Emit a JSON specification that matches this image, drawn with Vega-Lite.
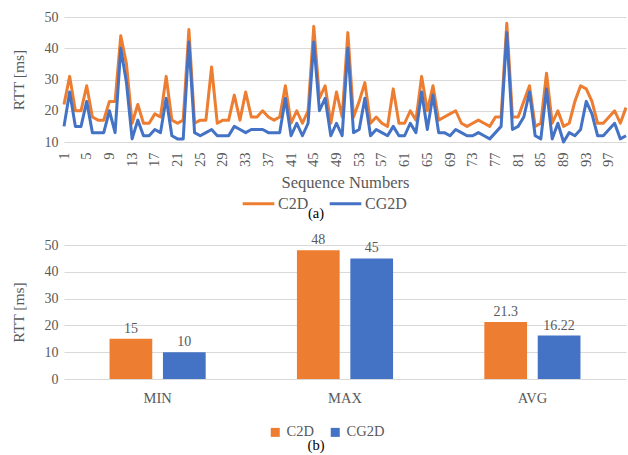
{
  "$schema": "https://vega.github.io/schema/vega-lite/v6.json",
  "padding": {"left": 11, "top": 10, "right": 0, "bottom": 0},
  "background": "white",
  "config": {
    "view": {"stroke": null},
    "font": "Liberation Serif",
    "axis": {"labelColor": "#595959", "titleColor": "#595959", "labelFont": "Liberation Serif", "titleFont": "Liberation Serif", "titleFontWeight": "normal", "gridColor": "#D9D9D9", "gridWidth": 1, "domain": false, "ticks": false},
    "legend": {"labelColor": "#595959", "labelFont": "Liberation Serif", "padding": 0},
    "title": {"font": "Liberation Serif", "fontWeight": "normal", "color": "#000000"}
  },
  "datasets": {
    "seq": [
      {"seq":1,"series":"C2D","rtt":22},{"seq":2,"series":"C2D","rtt":31},{"seq":3,"series":"C2D","rtt":20},{"seq":4,"series":"C2D","rtt":20},{"seq":5,"series":"C2D","rtt":28},{"seq":6,"series":"C2D","rtt":18},{"seq":7,"series":"C2D","rtt":17},{"seq":8,"series":"C2D","rtt":17},{"seq":9,"series":"C2D","rtt":23},{"seq":10,"series":"C2D","rtt":23},
      {"seq":11,"series":"C2D","rtt":44},{"seq":12,"series":"C2D","rtt":35},{"seq":13,"series":"C2D","rtt":16},{"seq":14,"series":"C2D","rtt":22},{"seq":15,"series":"C2D","rtt":16},{"seq":16,"series":"C2D","rtt":16},{"seq":17,"series":"C2D","rtt":19},{"seq":18,"series":"C2D","rtt":18},{"seq":19,"series":"C2D","rtt":31},{"seq":20,"series":"C2D","rtt":17},
      {"seq":21,"series":"C2D","rtt":16},{"seq":22,"series":"C2D","rtt":17},{"seq":23,"series":"C2D","rtt":46},{"seq":24,"series":"C2D","rtt":16},{"seq":25,"series":"C2D","rtt":17},{"seq":26,"series":"C2D","rtt":17},{"seq":27,"series":"C2D","rtt":34},{"seq":28,"series":"C2D","rtt":16},{"seq":29,"series":"C2D","rtt":17},{"seq":30,"series":"C2D","rtt":17},
      {"seq":31,"series":"C2D","rtt":25},{"seq":32,"series":"C2D","rtt":17},{"seq":33,"series":"C2D","rtt":26},{"seq":34,"series":"C2D","rtt":18},{"seq":35,"series":"C2D","rtt":18},{"seq":36,"series":"C2D","rtt":20},{"seq":37,"series":"C2D","rtt":18},{"seq":38,"series":"C2D","rtt":17},{"seq":39,"series":"C2D","rtt":18},{"seq":40,"series":"C2D","rtt":28},
      {"seq":41,"series":"C2D","rtt":16},{"seq":42,"series":"C2D","rtt":20},{"seq":43,"series":"C2D","rtt":16},{"seq":44,"series":"C2D","rtt":20},{"seq":45,"series":"C2D","rtt":47},{"seq":46,"series":"C2D","rtt":24},{"seq":47,"series":"C2D","rtt":28},{"seq":48,"series":"C2D","rtt":16},{"seq":49,"series":"C2D","rtt":26},{"seq":50,"series":"C2D","rtt":18},
      {"seq":51,"series":"C2D","rtt":45},{"seq":52,"series":"C2D","rtt":18},{"seq":53,"series":"C2D","rtt":23},{"seq":54,"series":"C2D","rtt":29},{"seq":55,"series":"C2D","rtt":16},{"seq":56,"series":"C2D","rtt":18},{"seq":57,"series":"C2D","rtt":16},{"seq":58,"series":"C2D","rtt":15},{"seq":59,"series":"C2D","rtt":27},{"seq":60,"series":"C2D","rtt":16},
      {"seq":61,"series":"C2D","rtt":16},{"seq":62,"series":"C2D","rtt":20},{"seq":63,"series":"C2D","rtt":17},{"seq":64,"series":"C2D","rtt":31},{"seq":65,"series":"C2D","rtt":20},{"seq":66,"series":"C2D","rtt":28},{"seq":67,"series":"C2D","rtt":17},{"seq":68,"series":"C2D","rtt":18},{"seq":69,"series":"C2D","rtt":19},{"seq":70,"series":"C2D","rtt":20},
      {"seq":71,"series":"C2D","rtt":16},{"seq":72,"series":"C2D","rtt":15},{"seq":73,"series":"C2D","rtt":16},{"seq":74,"series":"C2D","rtt":17},{"seq":75,"series":"C2D","rtt":16},{"seq":76,"series":"C2D","rtt":15},{"seq":77,"series":"C2D","rtt":18},{"seq":78,"series":"C2D","rtt":18},{"seq":79,"series":"C2D","rtt":48},{"seq":80,"series":"C2D","rtt":18},
      {"seq":81,"series":"C2D","rtt":18},{"seq":82,"series":"C2D","rtt":23},{"seq":83,"series":"C2D","rtt":28},{"seq":84,"series":"C2D","rtt":15},{"seq":85,"series":"C2D","rtt":16},{"seq":86,"series":"C2D","rtt":32},{"seq":87,"series":"C2D","rtt":16},{"seq":88,"series":"C2D","rtt":20},{"seq":89,"series":"C2D","rtt":15},{"seq":90,"series":"C2D","rtt":16},
      {"seq":91,"series":"C2D","rtt":23},{"seq":92,"series":"C2D","rtt":28},{"seq":93,"series":"C2D","rtt":27},{"seq":94,"series":"C2D","rtt":23},{"seq":95,"series":"C2D","rtt":16},{"seq":96,"series":"C2D","rtt":16},{"seq":97,"series":"C2D","rtt":18},{"seq":98,"series":"C2D","rtt":20},{"seq":99,"series":"C2D","rtt":16},{"seq":100,"series":"C2D","rtt":21},
      {"seq":1,"series":"CG2D","rtt":15},{"seq":2,"series":"CG2D","rtt":26},{"seq":3,"series":"CG2D","rtt":15},{"seq":4,"series":"CG2D","rtt":15},{"seq":5,"series":"CG2D","rtt":23},{"seq":6,"series":"CG2D","rtt":13},{"seq":7,"series":"CG2D","rtt":13},{"seq":8,"series":"CG2D","rtt":13},{"seq":9,"series":"CG2D","rtt":20},{"seq":10,"series":"CG2D","rtt":13},
      {"seq":11,"series":"CG2D","rtt":40},{"seq":12,"series":"CG2D","rtt":29},{"seq":13,"series":"CG2D","rtt":11},{"seq":14,"series":"CG2D","rtt":17},{"seq":15,"series":"CG2D","rtt":12},{"seq":16,"series":"CG2D","rtt":12},{"seq":17,"series":"CG2D","rtt":14},{"seq":18,"series":"CG2D","rtt":13},{"seq":19,"series":"CG2D","rtt":24},{"seq":20,"series":"CG2D","rtt":12},
      {"seq":21,"series":"CG2D","rtt":11},{"seq":22,"series":"CG2D","rtt":11},{"seq":23,"series":"CG2D","rtt":42},{"seq":24,"series":"CG2D","rtt":13},{"seq":25,"series":"CG2D","rtt":12},{"seq":26,"series":"CG2D","rtt":13},{"seq":27,"series":"CG2D","rtt":14},{"seq":28,"series":"CG2D","rtt":12},{"seq":29,"series":"CG2D","rtt":12},{"seq":30,"series":"CG2D","rtt":12},
      {"seq":31,"series":"CG2D","rtt":15},{"seq":32,"series":"CG2D","rtt":14},{"seq":33,"series":"CG2D","rtt":13},{"seq":34,"series":"CG2D","rtt":14},{"seq":35,"series":"CG2D","rtt":14},{"seq":36,"series":"CG2D","rtt":14},{"seq":37,"series":"CG2D","rtt":13},{"seq":38,"series":"CG2D","rtt":13},{"seq":39,"series":"CG2D","rtt":13},{"seq":40,"series":"CG2D","rtt":24},
      {"seq":41,"series":"CG2D","rtt":12},{"seq":42,"series":"CG2D","rtt":16},{"seq":43,"series":"CG2D","rtt":12},{"seq":44,"series":"CG2D","rtt":16},{"seq":45,"series":"CG2D","rtt":42},{"seq":46,"series":"CG2D","rtt":20},{"seq":47,"series":"CG2D","rtt":24},{"seq":48,"series":"CG2D","rtt":12},{"seq":49,"series":"CG2D","rtt":16},{"seq":50,"series":"CG2D","rtt":12},
      {"seq":51,"series":"CG2D","rtt":40},{"seq":52,"series":"CG2D","rtt":13},{"seq":53,"series":"CG2D","rtt":14},{"seq":54,"series":"CG2D","rtt":24},{"seq":55,"series":"CG2D","rtt":12},{"seq":56,"series":"CG2D","rtt":14},{"seq":57,"series":"CG2D","rtt":13},{"seq":58,"series":"CG2D","rtt":12},{"seq":59,"series":"CG2D","rtt":15},{"seq":60,"series":"CG2D","rtt":12},
      {"seq":61,"series":"CG2D","rtt":12},{"seq":62,"series":"CG2D","rtt":16},{"seq":63,"series":"CG2D","rtt":13},{"seq":64,"series":"CG2D","rtt":26},{"seq":65,"series":"CG2D","rtt":14},{"seq":66,"series":"CG2D","rtt":25},{"seq":67,"series":"CG2D","rtt":13},{"seq":68,"series":"CG2D","rtt":13},{"seq":69,"series":"CG2D","rtt":12},{"seq":70,"series":"CG2D","rtt":14},
      {"seq":71,"series":"CG2D","rtt":13},{"seq":72,"series":"CG2D","rtt":12},{"seq":73,"series":"CG2D","rtt":12},{"seq":74,"series":"CG2D","rtt":13},{"seq":75,"series":"CG2D","rtt":12},{"seq":76,"series":"CG2D","rtt":11},{"seq":77,"series":"CG2D","rtt":13},{"seq":78,"series":"CG2D","rtt":15},{"seq":79,"series":"CG2D","rtt":45},{"seq":80,"series":"CG2D","rtt":14},
      {"seq":81,"series":"CG2D","rtt":15},{"seq":82,"series":"CG2D","rtt":18},{"seq":83,"series":"CG2D","rtt":26},{"seq":84,"series":"CG2D","rtt":12},{"seq":85,"series":"CG2D","rtt":11},{"seq":86,"series":"CG2D","rtt":27},{"seq":87,"series":"CG2D","rtt":11},{"seq":88,"series":"CG2D","rtt":16},{"seq":89,"series":"CG2D","rtt":10},{"seq":90,"series":"CG2D","rtt":13},
      {"seq":91,"series":"CG2D","rtt":12},{"seq":92,"series":"CG2D","rtt":14},{"seq":93,"series":"CG2D","rtt":23},{"seq":94,"series":"CG2D","rtt":19},{"seq":95,"series":"CG2D","rtt":12},{"seq":96,"series":"CG2D","rtt":12},{"seq":97,"series":"CG2D","rtt":14},{"seq":98,"series":"CG2D","rtt":16},{"seq":99,"series":"CG2D","rtt":11},{"seq":100,"series":"CG2D","rtt":12}
    ],
    "stats": [
      {"stat":"MIN","series":"C2D","value":15},{"stat":"MIN","series":"CG2D","value":10},
      {"stat":"MAX","series":"C2D","value":48},{"stat":"MAX","series":"CG2D","value":45},
      {"stat":"AVG","series":"C2D","value":21.3},{"stat":"AVG","series":"CG2D","value":16.22}
    ]
  },
  "spacing": 12,
  "resolve": {"scale": {"x": "independent", "y": "independent", "color": "independent"}, "legend": {"color": "independent"}, "axis": {"x": "independent", "y": "independent"}},
  "vconcat": [
    {
      "width": 562,
      "height": 125,
      "data": {"name": "seq"},
      "title": {"text": "(a)", "orient": "bottom", "anchor": "middle", "dx": -29, "fontSize": 14.5, "offset": -5, "font": "Liberation Serif"},
      "mark": {"type": "line", "strokeWidth": 3, "strokeJoin": "round"},
      "encoding": {
        "x": {"field": "seq", "type": "quantitative", "scale": {"domain": [1, 100], "nice": false},
          "axis": {"values": [1,5,9,13,17,21,25,29,33,37,41,45,49,53,57,61,65,69,73,77,81,85,89,93,97], "labelAngle": -90, "grid": false, "labelFontSize": 14.5, "labelPadding": 10, "labelFont": "Liberation Serif", "title": "Sequence Numbers", "titleFont": "Liberation Serif", "titleFontSize": 16.5, "titlePadding": 8}},
        "y": {"field": "rtt", "type": "quantitative", "scale": {"domain": [10, 50], "nice": false, "zero": false},
          "axis": {"values": [10,20,30,40,50], "grid": true, "labelFontSize": 14, "labelPadding": 6, "labelFont": "Liberation Serif", "title": "RTT [ms]", "titleFont": "Liberation Serif", "titleFontSize": 15.5, "titlePadding": 18}},
        "color": {"field": "series", "type": "nominal", "scale": {"domain": ["C2D", "CG2D"], "range": ["#ED7D31", "#4472C4"]},
          "legend": {"orient": "none", "legendX": 177, "legendY": 169, "direction": "horizontal", "title": null, "symbolType": "stroke", "symbolSize": 1000, "symbolStrokeWidth": 3, "labelFont": "Liberation Serif", "labelFontSize": 16, "labelOffset": 2, "columnPadding": 14}}
      }
    },
    {
      "width": 562,
      "height": 134,
      "data": {"name": "stats"},
      "title": {"text": "(b)", "orient": "bottom", "anchor": "middle", "dx": -29, "fontSize": 14.5, "offset": 0, "font": "Liberation Serif"},
      "encoding": {
        "x": {"field": "stat", "type": "nominal", "sort": ["MIN", "MAX", "AVG"], "scale": {"paddingInner": 0.487, "paddingOuter": 0.243},
          "axis": {"labelAngle": 0, "labelFontSize": 14.5, "labelPadding": 12, "labelFont": "Liberation Serif", "title": null, "grid": false}},
        "xOffset": {"field": "series", "type": "nominal", "sort": ["C2D", "CG2D"], "scale": {"paddingInner": 0.2, "paddingOuter": 0}},
        "y": {"field": "value", "type": "quantitative", "scale": {"domain": [0, 50], "nice": false},
          "axis": {"values": [0,10,20,30,40,50], "grid": true, "labelFontSize": 14, "labelPadding": 6, "labelFont": "Liberation Serif", "title": "RTT [ms]", "titleFont": "Liberation Serif", "titleFontSize": 15.5, "titlePadding": 18}}
      },
      "layer": [
        {
          "mark": {"type": "bar"},
          "encoding": {
            "color": {"field": "series", "type": "nominal", "scale": {"domain": ["C2D", "CG2D"], "range": ["#ED7D31", "#4472C4"]},
              "legend": {"orient": "none", "legendX": 204, "legendY": 180, "direction": "horizontal", "title": null, "symbolType": "square", "symbolSize": 81, "symbolStrokeWidth": 0, "labelFont": "Liberation Serif", "labelFontSize": 14.5, "labelOffset": 4, "columnPadding": 14}}
          }
        },
        {
          "mark": {"type": "text", "dy": -10, "baseline": "middle", "fontSize": 14, "font": "Liberation Serif", "color": "#595959"},
          "encoding": {"text": {"field": "value", "type": "nominal"}}
        }
      ]
    }
  ]
}
